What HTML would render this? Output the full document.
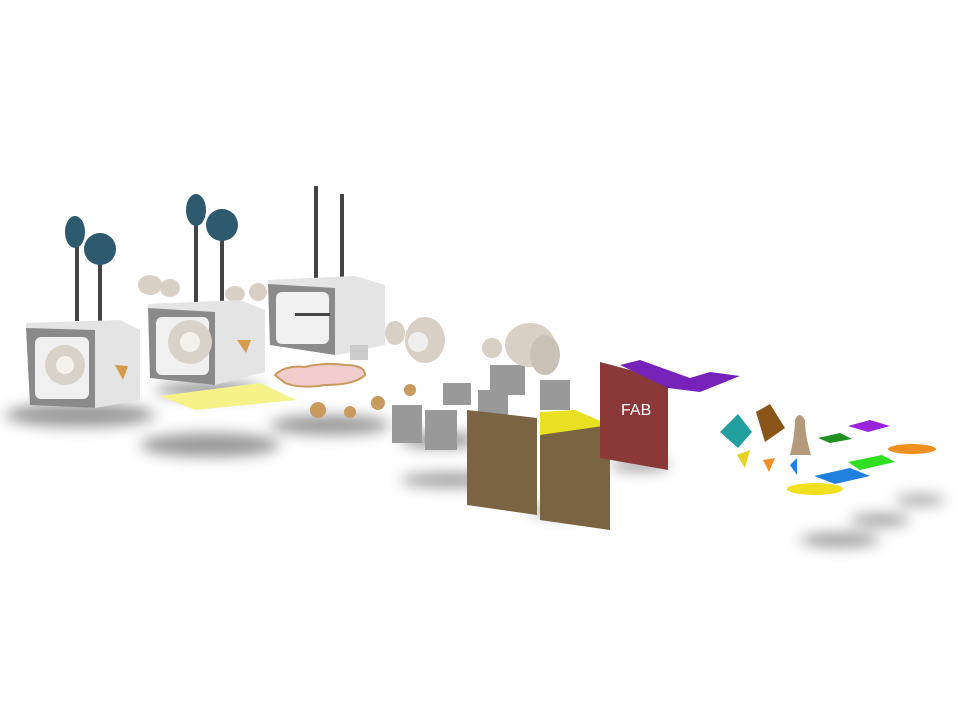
<!DOCTYPE html>
<html><head><style>html,body{margin:0;padding:0;background:#fff;width:960px;height:720px;overflow:hidden}</style></head>
<body>
<svg width="960" height="720" viewBox="0 0 960 720" xmlns="http://www.w3.org/2000/svg">
<defs>
<filter id="b" x="-50%" y="-50%" width="200%" height="200%"><feGaussianBlur stdDeviation="7"/></filter>
</defs>
<g filter="url(#b)" fill="#555" opacity="0.6">
<ellipse cx="80" cy="415" rx="75" ry="12"/>
<ellipse cx="210" cy="445" rx="70" ry="12"/>
<ellipse cx="330" cy="425" rx="60" ry="10"/>
<ellipse cx="210" cy="390" rx="55" ry="8"/>
<ellipse cx="440" cy="440" rx="40" ry="8"/>
<ellipse cx="640" cy="465" rx="30" ry="6"/>
<ellipse cx="560" cy="510" rx="30" ry="6"/>
<ellipse cx="840" cy="540" rx="40" ry="7"/>
<ellipse cx="880" cy="520" rx="30" ry="6"/>
<ellipse cx="920" cy="500" rx="25" ry="5"/>
<ellipse cx="450" cy="480" rx="50" ry="7"/>
</g>
<g>
<rect x="75" y="221" width="4" height="100" fill="#444"/>
<rect x="98" y="244" width="4" height="85" fill="#444"/>
<ellipse cx="75" cy="232" rx="10" ry="16" fill="#2d5a6e"/>
<circle cx="100" cy="249" r="16" fill="#2d5a6e"/>
<polygon points="26,323 120,320 140,330 140,400 95,408 30,405" fill="#e4e4e4"/>
<polygon points="26,328 95,330 95,408 30,405" fill="#8a8a8a"/>
<rect x="35" y="337" width="54" height="62" rx="6" fill="#f0f0f0"/>
<circle cx="65" cy="365" r="20" fill="#d8d2c8"/>
<circle cx="65" cy="365" r="9" fill="#f4f0ea"/>
<polygon points="115,365 128,366 123,380" fill="#d79a4a"/>
</g>
<g>
<ellipse cx="150" cy="285" rx="12" ry="10" fill="#d8d0c4"/>
<ellipse cx="170" cy="288" rx="10" ry="9" fill="#d8d0c4"/>
<ellipse cx="235" cy="294" rx="10" ry="8" fill="#d8d0c4"/>
<ellipse cx="258" cy="292" rx="9" ry="9" fill="#d8d0c4"/>
<rect x="194" y="200" width="4" height="105" fill="#444"/>
<rect x="220" y="225" width="4" height="90" fill="#444"/>
<ellipse cx="196" cy="210" rx="10" ry="16" fill="#2d5a6e"/>
<circle cx="222" cy="225" r="16" fill="#2d5a6e"/>
<polygon points="148,304 240,300 265,310 265,372 215,385 150,378" fill="#e4e4e4"/>
<polygon points="148,308 215,312 215,385 150,378" fill="#8a8a8a"/>
<rect x="156" y="317" width="53" height="58" rx="6" fill="#f0f0f0"/>
<circle cx="190" cy="342" r="22" fill="#d8d2c8"/>
<circle cx="190" cy="342" r="10" fill="#f4f0ea"/>
<polygon points="237,340 251,340 246,353" fill="#d79a4a"/>
</g>
<polygon points="160,396 260,383 296,400 195,410" fill="#f6f28a"/>
<g>
<rect x="314" y="186" width="4" height="95" fill="#444"/>
<rect x="340" y="194" width="4" height="90" fill="#444"/>
<polygon points="268,280 355,276 385,285 385,345 338,355 270,345" fill="#e4e4e4"/>
<polygon points="268,284 335,288 335,355 270,345" fill="#8a8a8a"/>
<rect x="276" y="292" width="53" height="52" rx="6" fill="#f0f0f0"/>
<rect x="295" y="313" width="35" height="3" fill="#444"/>
<rect x="350" y="345" width="18" height="15" fill="#ccc"/>
<ellipse cx="395" cy="333" rx="10" ry="12" fill="#d8d0c4"/>
<ellipse cx="425" cy="340" rx="20" ry="23" fill="#d8d0c4"/>
<circle cx="418" cy="342" r="10" fill="#eee"/>
</g>
<path d="M275 375 q10 -10 30 -8 q20 -5 40 -2 q20 0 20 10 q-10 10 -40 10 q-25 4 -40 -2 z" fill="#f2cccc" stroke="#c89a60" stroke-width="2"/>
<g fill="#c99a5e">
<circle cx="318" cy="410" r="8"/><circle cx="350" cy="412" r="6"/><circle cx="378" cy="403" r="7"/><circle cx="410" cy="390" r="6"/>
</g>
<g fill="#999">
<rect x="392" y="405" width="30" height="38"/><rect x="425" y="410" width="32" height="40"/>
<rect x="443" y="383" width="28" height="22"/><rect x="478" y="390" width="30" height="25"/>
<rect x="490" y="365" width="35" height="30"/><rect x="540" y="380" width="30" height="30"/>
</g>
<ellipse cx="530" cy="345" rx="25" ry="22" fill="#d8d0c4"/>
<ellipse cx="545" cy="355" rx="15" ry="20" fill="#c9c1b5"/>
<ellipse cx="492" cy="348" rx="10" ry="10" fill="#d8d0c4"/>
<polygon points="467,410 537,418 537,515 467,505" fill="#7a6442"/>
<polygon points="540,420 610,425 610,530 540,520" fill="#7a6442"/>
<polygon points="540,412 575,410 610,425 540,435" fill="#e8e020"/>
<polygon points="600,362 668,380 668,470 600,458" fill="#8a3838"/>
<text x="621" y="415" font-family="Liberation Sans, sans-serif" font-size="16" fill="#fff">FAB</text>
<polygon points="620,365 640,360 690,378 710,372 740,376 700,392 668,388" fill="#7722bb"/>
<polygon points="720,432 738,414 752,432 738,448" fill="#22a0a0"/>
<polygon points="756,412 770,404 785,428 765,442" fill="#8a5518"/>
<path d="M790 455 q5 -20 5 -35 q4 -10 10 0 q0 15 6 35 z" fill="#b39a7a"/>
<polygon points="737,455 750,450 745,468" fill="#e8d020"/>
<polygon points="763,460 775,458 769,472" fill="#f09020"/>
<polygon points="790,465 797,458 797,475" fill="#2080e0"/>
<polygon points="848,426 870,420 890,426 868,432" fill="#9922dd"/>
<polygon points="818,438 840,433 852,439 830,443" fill="#209020"/>
<ellipse cx="912" cy="449" rx="24" ry="5" fill="#f09020"/>
<polygon points="848,462 882,455 895,462 860,470" fill="#30e020"/>
<polygon points="814,476 850,468 870,476 835,484" fill="#2080e0"/>
<ellipse cx="815" cy="489" rx="28" ry="6" fill="#f0e020"/>
</svg>
</body></html>
